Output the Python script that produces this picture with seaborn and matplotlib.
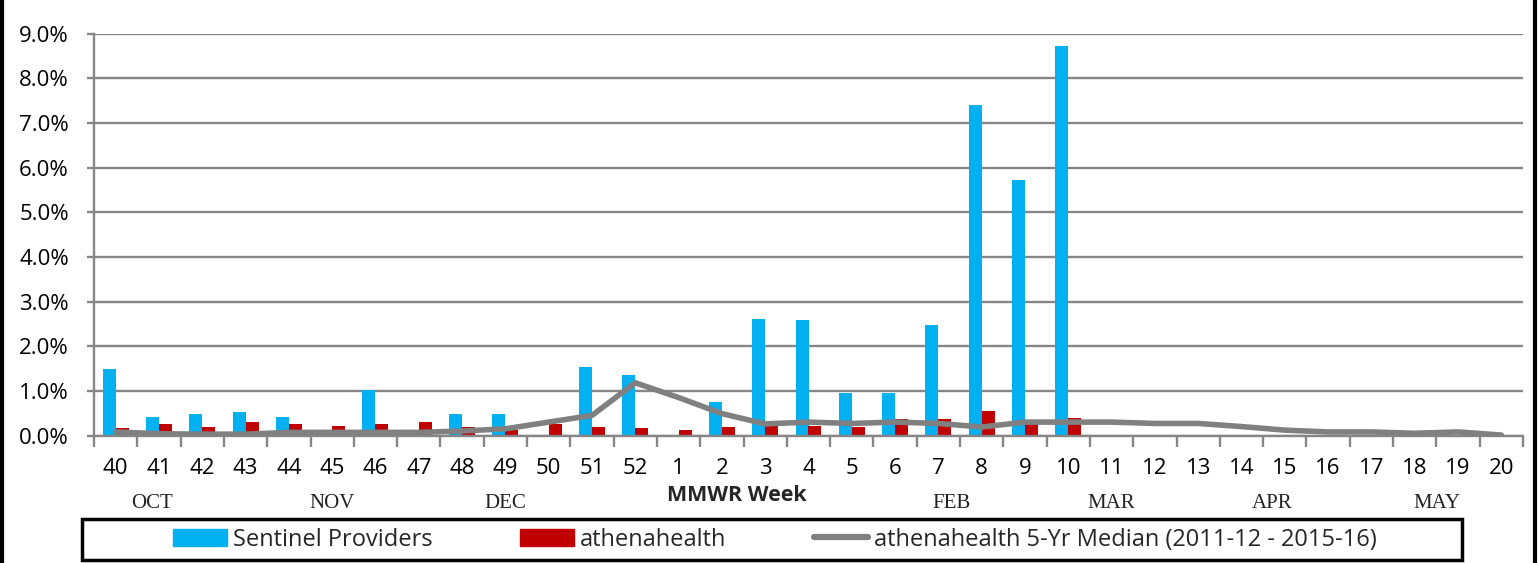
import matplotlib
matplotlib.use("Agg")
import matplotlib.pyplot as plt
from matplotlib.lines import Line2D
from matplotlib.patches import Rectangle
from matplotlib.ticker import FuncFormatter, FixedLocator
import seaborn as sns
import pandas as pd
import numpy as np

nan = np.nan

weeks = ['40', '41', '42', '43', '44', '45', '46', '47', '48', '49', '50', '51', '52',
         '1', '2', '3', '4', '5', '6', '7', '8', '9', '10', '11', '12', '13', '14',
         '15', '16', '17', '18', '19', '20']

# % of visits
sentinel = [1.50, 0.42, 0.49, 0.53, 0.42, 0.00, 1.01, 0.00, 0.49, 0.49, 0.00, 1.53, 1.36,
            0.00, 0.74, 2.61, 2.58, 0.95, 0.95, 2.47, 7.39, 5.71, 8.73,
            nan, nan, nan, nan, nan, nan, nan, nan, nan, nan]
athena = [0.16, 0.26, 0.19, 0.30, 0.26, 0.22, 0.26, 0.30, 0.19, 0.12, 0.25, 0.19, 0.16,
          0.13, 0.19, 0.21, 0.21, 0.19, 0.37, 0.37, 0.54, 0.25, 0.40,
          nan, nan, nan, nan, nan, nan, nan, nan, nan, nan]
median5 = [0.08, 0.04, 0.03, 0.03, 0.07, 0.07, 0.07, 0.07, 0.10, 0.15, 0.30, 0.45, 1.18,
           0.85, 0.49, 0.26, 0.30, 0.27, 0.30, 0.27, 0.19, 0.30, 0.30, 0.30, 0.27, 0.27,
           0.20, 0.12, 0.08, 0.08, 0.05, 0.08, 0.01]

months = ['OCT', 'NOV', 'DEC', 'FEB', 'MAR', 'APR', 'MAY']
month_pos = [0.85, 5.0, 9.0, 19.3, 23.0, 26.7, 30.5]

s_name = 'Sentinel Providers'
a_name = 'athenahealth'
m_name = 'athenahealth 5-Yr Median (2011-12 - 2015-16)'

df = pd.DataFrame({'week': weeks * 2,
                   'pct': sentinel + athena,
                   'series': [s_name] * len(weeks) + [a_name] * len(weeks)})

sns.set_theme(style='white')
plt.rcParams['font.family'] = ['Open Sans', 'DejaVu Sans']

grid_c = '#868686'
fig = plt.figure(figsize=(15.38, 5.63), dpi=100)
ax = fig.add_axes([94 / 1538, 1 - 435.5 / 563, 1429 / 1538, 402 / 563])

sns.barplot(data=df, x='week', y='pct', hue='series', order=weeks,
            hue_order=[s_name, a_name], palette=['#00B0F0', '#C00000'],
            width=0.6, saturation=1, linewidth=0, ax=ax, zorder=2, legend=False)
sns.lineplot(x=np.arange(len(weeks)), y=median5, color='#808080', lw=4,
             ax=ax, zorder=3, solid_capstyle='round')

ax.set_xlim(-0.5, len(weeks) - 0.5)
ax.set_ylim(0, 9)
ax.set_yticks(np.arange(0, 10, 1))
ax.yaxis.set_major_formatter(FuncFormatter(lambda v, p: f'{v:.1f}%'))
ax.grid(axis='y', color=grid_c, lw=1.7, zorder=0)
ax.set_axisbelow(True)
ax.set_xlabel('')
ax.set_ylabel('')

for s in ['top', 'right']:
    ax.spines[s].set_visible(False)
for s in ['left', 'bottom']:
    ax.spines[s].set_color(grid_c)
    ax.spines[s].set_linewidth(1.7)

ax.xaxis.set_minor_locator(FixedLocator(np.arange(-0.5, len(weeks), 1)))
ax.tick_params(axis='x', which='major', length=0, pad=16, labelsize=16, colors='black')
ax.tick_params(axis='x', which='minor', length=8, width=1.7, color=grid_c, direction='out')
ax.tick_params(axis='y', length=5, width=1.7, color=grid_c, pad=13, labelsize=16,
               labelcolor='black', direction='out')
ax.tick_params(axis='both', bottom=True, left=True, which='both')

for m, xp in zip(months, month_pos):
    ax.text(xp, -0.168, m, transform=ax.get_xaxis_transform(), ha='center', va='center',
            fontsize=15, family='Liberation Serif', color='#222222')
ax.text(14.35, -0.15, 'MMWR Week', transform=ax.get_xaxis_transform(), ha='center',
        va='center', fontsize=15.5, fontweight='bold')

# legend, with its own box
fig.add_artist(Rectangle((82 / 1538, 1 - 560 / 563), 1380 / 1538, 41 / 563,
                         transform=fig.transFigure, fill=False, ec='black', lw=2.5))
handles = [Rectangle((0, 0), 1, 1, color='#00B0F0'),
           Rectangle((0, 0), 1, 1, color='#C00000'),
           Line2D([], [], color='#808080', lw=4.5, solid_capstyle='round')]
fig.legend(handles, [s_name, a_name, m_name], loc='center',
           bbox_to_anchor=(775 / 1538, 1 - 539.5 / 563), ncol=3, frameon=False,
           fontsize=17, handlelength=2.3, handletextpad=0.25, columnspacing=3.7)

# outer frame
fig.add_artist(Line2D([2 / 1538, 2 / 1538], [0, 1], transform=fig.transFigure,
                      color='black', lw=3))
fig.add_artist(Line2D([1535 / 1538, 1535 / 1538], [0, 1], transform=fig.transFigure,
                      color='black', lw=3))

fig.savefig('out.png', dpi=100)
